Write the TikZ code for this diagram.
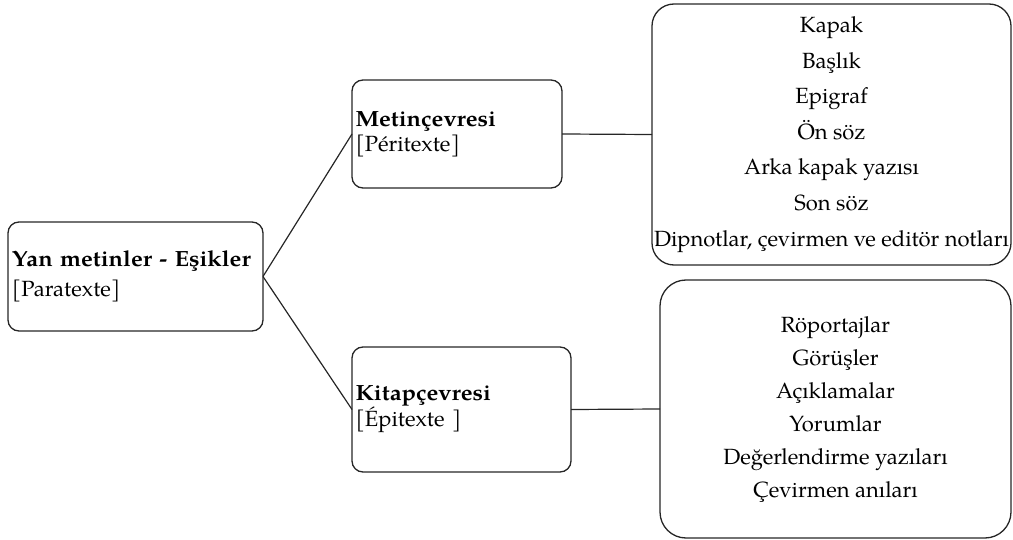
\documentclass[tikz,border=0pt]{standalone}
\usepackage{fontspec}
\setmainfont{texgyrepagella}[Extension=.otf, UprightFont=*-regular, BoldFont=*-bold, ItalicFont=*-italic, BoldItalicFont=*-bolditalic, BoldFeatures={FakeStretch=1.075}]
\begin{document}
\begin{tikzpicture}[x=1pt,y=-1pt,
  box/.style={draw=black!85, line width=1.3pt, rounded corners=11pt, inner sep=0pt, outer sep=0pt, align=left},
  bigbox/.style={box, align=center},
  conn/.style={draw=black!85, line width=1.2pt}]
\useasboundingbox (0,0) rectangle (1013,540);
\node[box, minimum width=255pt, minimum height=109pt, text width=247pt,
      font=\fontsize{22}{30}\selectfont] (root) at (135.5,276.5)
  {\textbf{Yan metinler - Eşikler}\\{[Paratexte]}};
\node[box, minimum width=210pt, minimum height=108pt, text width=203pt,
      font=\fontsize{22}{25}\selectfont] (peri) at (457,134)
  {\textbf{Metinçevresi}\\{[Péritexte]}};
\node[box, minimum width=219pt, minimum height=125pt, text width=212pt,
      font=\fontsize{22}{26}\selectfont] (epi) at (461.5,409.5)
  {\textbf{Kitapçevresi}\\{[Épitexte ]}};
\node[bigbox, rounded corners=22pt, minimum width=359pt, minimum height=261pt,
      font=\fontsize{22}{35.6}\selectfont] (perilist) at (831.5,134.5)
  {Kapak\\Başlık\\Epigraf\\Ön söz\\Arka kapak yazısı\\Son söz\\Dipnotlar, çevirmen ve editör notları};
\node[bigbox, rounded corners=26pt, minimum width=351pt, minimum height=258pt,
      font=\fontsize{22}{33}\selectfont] (epilist) at (835.5,409)
  {Röportajlar\\Görüşler\\Açıklamalar\\Yorumlar\\Değerlendirme yazıları\\Çevirmen anıları};
\draw[conn] (root.east) -- (peri.west);
\draw[conn] (root.east) -- (epi.west);
\draw[conn] (peri.east) -- (perilist.west);
\draw[conn] (epi.east) -- (epilist.west);
\end{tikzpicture}
\end{document}
